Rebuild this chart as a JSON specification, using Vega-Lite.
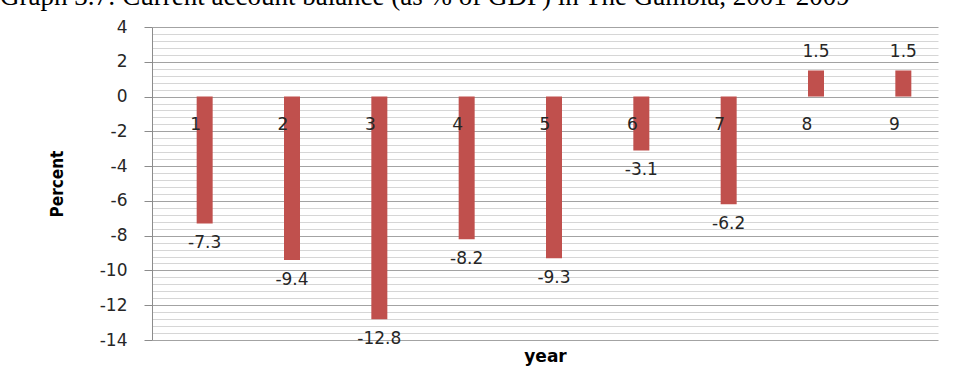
{
  "$schema": "https://vega.github.io/schema/vega-lite/v6.json",
  "width": 786,
  "height": 313,
  "autosize": {"type": "none"},
  "padding": {"left": 152, "top": 27, "right": 17, "bottom": 41},
  "background": "white",
  "title": {
    "text": "Graph 3.7: Current account balance (as % of GDP) in The Gambia, 2001-2009",
    "anchor": "start",
    "frame": "group",
    "dx": -152,
    "dy": 13.5,
    "offset": 0,
    "baseline": "alphabetic",
    "font": "Liberation Serif",
    "fontSize": 27,
    "fontWeight": "normal",
    "color": "#000000"
  },
  "config": {
    "view": {"stroke": null},
    "text": {"font": "DejaVu Sans", "fontSize": 17, "color": "#262626"}
  },
  "data": {
    "values": [
      {"year": 1, "value": -7.3},
      {"year": 2, "value": -9.4},
      {"year": 3, "value": -12.8},
      {"year": 4, "value": -8.2},
      {"year": 5, "value": -9.3},
      {"year": 6, "value": -3.1},
      {"year": 7, "value": -6.2},
      {"year": 8, "value": 1.5},
      {"year": 9, "value": 1.5}
    ]
  },
  "encoding": {
    "x": {
      "field": "year",
      "type": "ordinal",
      "scale": {"paddingInner": 0, "paddingOuter": 0},
      "axis": {
        "labels": false,
        "ticks": false,
        "domain": false,
        "grid": false,
        "title": "year",
        "titleFont": "DejaVu Sans",
        "titleFontSize": 17,
        "titleFontWeight": "bold",
        "titleColor": "#000000",
        "titleBaseline": "middle",
        "titleY": 16
      }
    }
  },
  "layer": [
    {
      "mark": {"type": "bar", "width": 16, "xOffset": 9, "color": "#C0504D"},
      "encoding": {
        "y": {
          "field": "value",
          "type": "quantitative",
          "scale": {"domain": [-14, 4], "nice": false, "zero": false},
          "axis": {
            "title": "Percent",
            "titleFont": "DejaVu Sans Condensed",
            "titleFontSize": 17,
            "titleFontWeight": "bold",
            "titleColor": "#000000",
            "titleAngle": -90,
            "titleAlign": "center",
            "titleBaseline": "middle",
            "titleX": -95,
            "titleY": 156.5,
            "tickCount": 100,
            "values": [-14, -13.6, -13.2, -12.8, -12.4, -12, -11.6, -11.2, -10.8, -10.4, -10, -9.6, -9.2, -8.8, -8.4, -8, -7.6, -7.2, -6.8, -6.4, -6, -5.6, -5.2, -4.8, -4.4, -4, -3.6, -3.2, -2.8, -2.4, -2, -1.6, -1.2, -0.8, -0.4, 0, 0.4, 0.8, 1.2, 1.6, 2, 2.4, 2.8, 3.2, 3.6, 4],
            "labelExpr": "datum.value % 2 === 0 ? '' + datum.value : ''",
            "labelFont": "DejaVu Sans",
            "labelFontSize": 17,
            "labelColor": "#262626",
            "labelPadding": 17,
            "labelBound": false,
            "labelOverlap": false,
            "tickSize": 8,
            "tickColor": {"condition": {"test": "datum.value % 2 === 0", "value": "#8c8c8c"}, "value": "transparent"},
            "domainColor": "#8c8c8c",
            "grid": true,
            "gridColor": {"condition": {"test": "datum.value % 2 === 0", "value": "#a3a3a3"}, "value": "#d6d6d6"},
            "gridWidth": 1
          }
        }
      }
    },
    {
      "transform": [{"filter": "datum.value < 0"}],
      "mark": {"type": "text", "xOffset": 9, "dy": 19.5, "baseline": "middle", "align": "center"},
      "encoding": {
        "y": {"field": "value", "type": "quantitative"},
        "text": {"field": "value", "type": "nominal"}
      }
    },
    {
      "transform": [{"filter": "datum.value >= 0"}],
      "mark": {"type": "text", "xOffset": 9, "dy": -18.5, "baseline": "middle", "align": "center"},
      "encoding": {
        "y": {"field": "value", "type": "quantitative"},
        "text": {"field": "value", "type": "nominal"}
      }
    },
    {
      "mark": {"type": "text", "dy": 28.5, "baseline": "middle", "align": "center"},
      "encoding": {
        "y": {"datum": 0},
        "text": {"field": "year", "type": "nominal"}
      }
    }
  ]
}
